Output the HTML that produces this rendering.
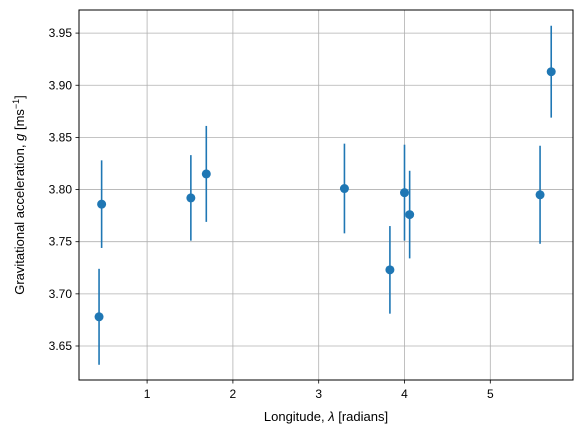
<!DOCTYPE html>
<html><head><meta charset="utf-8"><style>
html,body{margin:0;padding:0;background:#fff;}
svg{display:block;font-family:"Liberation Sans","DejaVu Sans",sans-serif;}
</style></head><body>
<svg id="chart" width="583" height="436">
<rect x="0" y="0" width="583" height="436" fill="#fff"/>
<g id="grid"></g>
<g id="marks"></g>
<rect x="79" y="10" width="494" height="370" fill="none" stroke="#000" stroke-width="1"/>
<g id="ticks"></g>
<text x="326" y="421" text-anchor="middle" font-size="13">Longitude, <tspan font-style="italic">λ</tspan> [radians]</text>
<text transform="translate(24,195) rotate(-90)" text-anchor="middle" font-size="13">Gravitational acceleration, <tspan font-style="italic">g</tspan> [ms<tspan dy="-5" font-size="9">−1</tspan><tspan dy="5">]</tspan></text>
</svg>
<script>
const longitudes=[0.44,0.47,1.51,1.69,3.30,3.83,4.00,4.06,5.58,5.71];
const gValues=[3.678,3.786,3.792,3.815,3.801,3.723,3.797,3.776,3.795,3.913];
const gErrors=[0.046,0.042,0.041,0.046,0.043,0.042,0.046,0.042,0.047,0.044];
const xTicks=[1,2,3,4,5];
const yTicks=[3.65,3.70,3.75,3.80,3.85,3.90,3.95];
const L=79,R=573,T=10,B=380;
function xs(v){return 61.3+v*85.8;}
function ys(v){return 346-(v-3.65)*1043;}
const NS="http://www.w3.org/2000/svg";
function mk(t,a,p){const e=document.createElementNS(NS,t);for(const k in a)e.setAttribute(k,a[k]);p.appendChild(e);return e;}
const grid=document.getElementById('grid'),ticks=document.getElementById('ticks'),marks=document.getElementById('marks');
xTicks.forEach(v=>{const x=xs(v);
 const g=mk('line',{x1:x,x2:x,y1:T,y2:B,stroke:'#b0b0b0','stroke-width':0.8},grid);
 
 
 const t=mk('line',{x1:x,x2:x,y1:B,y2:B+3.5,stroke:'#000','stroke-width':0.8},ticks);
 
 
 const l=mk('text',{x:x,y:B+18,'text-anchor':'middle','font-size':12},ticks);l.textContent=v;
 
 
});
yTicks.forEach(v=>{const y=ys(v);
 const g=mk('line',{x1:L,x2:R,y1:y,y2:y,stroke:'#b0b0b0','stroke-width':0.8},grid);
 
 
 const t=mk('line',{x1:L-3.5,x2:L,y1:y,y2:y,stroke:'#000','stroke-width':0.8},ticks);
 
 
 const l=mk('text',{x:L-7,y:y+4,'text-anchor':'end','font-size':12},ticks);l.textContent=v.toFixed(2);
 
 
});
longitudes.forEach((lon,i)=>{const x=xs(lon);
 const e=mk('line',{x1:x,x2:x,y1:ys(gValues[i]-gErrors[i]),y2:ys(gValues[i]+gErrors[i]),stroke:'#1f77b4','stroke-width':1.6},marks);
 
 
 const c=mk('circle',{cx:x,cy:ys(gValues[i]),r:4.5,fill:'#1f77b4'},marks);
 
 
});
</script>
</body></html>
